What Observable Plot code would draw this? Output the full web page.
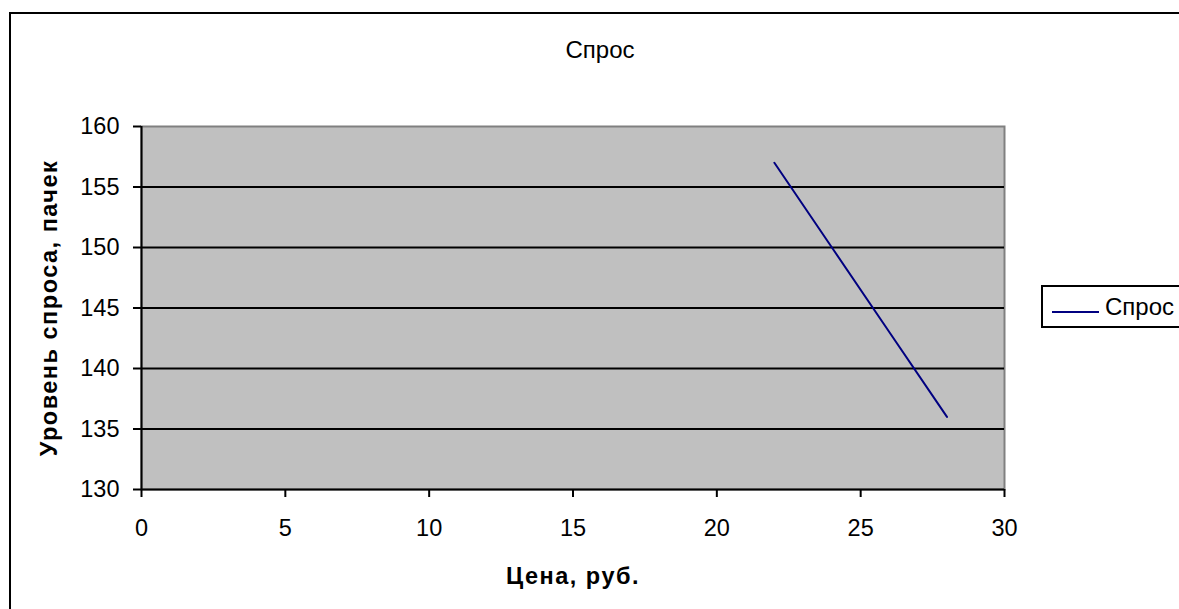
<!DOCTYPE html>
<html>
<head>
<meta charset="utf-8">
<script src="https://cdn.jsdelivr.net/npm/d3@7"></script>
<script src="https://cdn.jsdelivr.net/npm/@observablehq/plot@0.6"></script>
<style>
  html, body { margin: 0; padding: 0; background: #fff; }
  #wrap { position: relative; width: 1179px; height: 609px; overflow: hidden; font-family: "Liberation Sans", Arial, sans-serif; color: #000; }
  #border { position: absolute; left: 9px; top: 12px; width: 1300px; height: 700px; border-left: 2px solid #000; border-top: 2px solid #000; box-sizing: border-box; }
  #title { position: absolute; left: 500px; width: 200px; top: 38px; text-align: center; font-size: 24px; line-height: 24px; }
  #chart { position: absolute; left: 0; top: 0; }
  #legend { position: absolute; left: 1041px; top: 285px; width: 200px; height: 43px; border: 2px solid #000; box-sizing: border-box; background: #fff; }
  #legend svg { position: absolute; left: 9px; top: 23px; }
  #legend span { position: absolute; left: 62px; top: 8px; font-size: 24px; line-height: 24px; }
  svg g[aria-label="x-axis label"] text, svg g[aria-label="y-axis label"] text { font-weight: bold; letter-spacing: 1.5px; }
</style>
</head>
<body>
<div id="wrap">
  <div id="border"></div>
  <div id="title"></div>
  <div id="chart"></div>
  <div id="legend"></div>
</div>
<script>
// Data
const titleText = "Спрос";
const seriesName = "Спрос";
const xLabel = "Цена, руб.";
const yLabel = "Уровень спроса, пачек";
const price = [22, 24, 26, 28];
const demand = [157, 150, 143, 136];
const xTicks = [0, 5, 10, 15, 20, 25, 30];
const yTicks = [130, 135, 140, 145, 150, 155, 160];
const gridY = [135, 140, 145, 150, 155];

const data = price.map((p, i) => ({price: p, demand: demand[i]}));
const lineColor = "#000080";

document.getElementById("title").textContent = titleText;

const chart = Plot.plot({
  width: 1179,
  height: 609,
  marginLeft: 141,
  marginRight: 175,
  marginTop: 126,
  marginBottom: 120,
  style: {fontFamily: "'Liberation Sans', Arial, sans-serif", fontSize: "23.5px", color: "#000", background: "transparent", overflow: "visible"},
  x: {domain: [0, 30]},
  y: {domain: [130, 160]},
  marks: [
    Plot.frame({fill: "#c0c0c0", stroke: "#808080", strokeWidth: 2}),
    Plot.ruleY(gridY, {stroke: "#000", strokeWidth: 2}),
    Plot.ruleX([0], {stroke: "#000", strokeWidth: 2}),
    Plot.ruleY([130], {stroke: "#000", strokeWidth: 2}),
    Plot.axisX({ticks: xTicks, tickSize: 8, tickPadding: 22, strokeWidth: 2, label: xLabel, labelAnchor: "center", labelOffset: 94, labelArrow: "none", tickFormat: d => String(d)}),
    Plot.axisY({ticks: yTicks, tickSize: 8, tickPadding: 14, strokeWidth: 2, label: yLabel, labelAnchor: "center", labelOffset: 101, labelArrow: "none", tickFormat: d => String(d)}),
    Plot.line(data, {x: "price", y: "demand", stroke: lineColor, strokeWidth: 2})
  ]
});
document.getElementById("chart").appendChild(chart);

// Legend
const legend = document.getElementById("legend");
legend.innerHTML = `<svg width="48" height="4"><line x1="0" y1="2" x2="47" y2="2" stroke="${lineColor}" stroke-width="2"/></svg><span></span>`;
legend.querySelector("span").textContent = seriesName;
</script>
</body>
</html>
